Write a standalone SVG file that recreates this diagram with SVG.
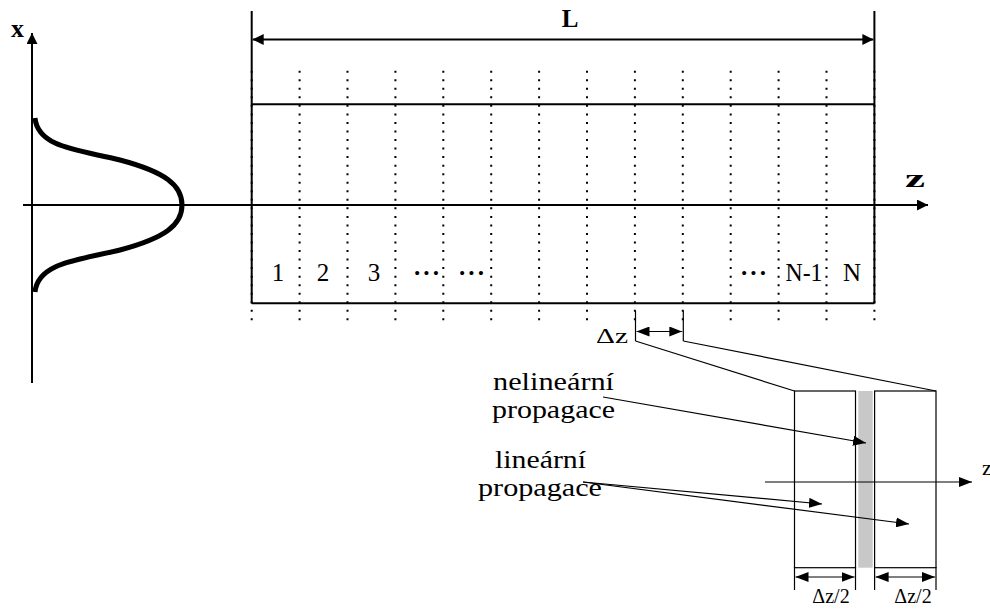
<svg xmlns="http://www.w3.org/2000/svg" width="990" height="610" viewBox="0 0 990 610">
<style>
text{font-family:"Liberation Serif","Times New Roman","DejaVu Serif",serif;fill:#000}
.b{font-weight:bold}
.ln{stroke:#000;stroke-width:2;fill:none}
.th{stroke:#000;stroke-width:1.2;fill:none}
.dot{stroke:#000;stroke-width:2;stroke-dasharray:2 6.54;fill:none}
</style>
<defs>
<marker id="ah" markerUnits="userSpaceOnUse" markerWidth="11" markerHeight="11" refX="11" refY="5.5" orient="auto-start-reverse"><path d="M0,0 L11,5.5 L0,11 z" fill="#000"/></marker>
<marker id="as" markerUnits="userSpaceOnUse" markerWidth="13" markerHeight="10" refX="13" refY="5" orient="auto-start-reverse"><path d="M0,0 L13,5 L0,10 z" fill="#000"/></marker>
</defs>
<rect width="990" height="610" fill="#fff"/>

<g id="axes">
<line class="ln" x1="32" y1="383" x2="32" y2="33" marker-end="url(#ah)"/>
<line class="ln" x1="23" y1="205" x2="928" y2="205" marker-end="url(#ah)"/>
<text class="b" x="17.5" y="37" font-size="26" text-anchor="middle" font-family="Liberation Serif, serif">x</text>
<text class="b" x="905" y="187" font-size="26" textLength="20" lengthAdjust="spacingAndGlyphs" font-family="Liberation Serif, serif">z</text>
</g>

<g id="gauss">
<path d="M35,118 C38,148 80,150 120,160 C165,172 182,185 182,205 C182,225 165,238 120,250 C80,260 38,262 35,292" stroke="#000" stroke-width="5" fill="none"/>
</g>

<g id="fiber">
<line class="dot" x1="251.7" y1="70.7" x2="251.7" y2="323"/>
<line class="dot" x1="299.6" y1="70.7" x2="299.6" y2="323"/>
<line class="dot" x1="347.5" y1="70.7" x2="347.5" y2="323"/>
<line class="dot" x1="395.4" y1="70.7" x2="395.4" y2="323"/>
<line class="dot" x1="443.3" y1="70.7" x2="443.3" y2="323"/>
<line class="dot" x1="491.2" y1="70.7" x2="491.2" y2="323"/>
<line class="dot" x1="539.1" y1="70.7" x2="539.1" y2="323"/>
<line class="dot" x1="587.0" y1="70.7" x2="587.0" y2="323"/>
<line class="dot" x1="634.9" y1="70.7" x2="634.9" y2="323"/>
<line class="dot" x1="682.8" y1="70.7" x2="682.8" y2="323"/>
<line class="dot" x1="730.7" y1="70.7" x2="730.7" y2="323"/>
<line class="dot" x1="778.6" y1="70.7" x2="778.6" y2="323"/>
<line class="dot" x1="826.5" y1="70.7" x2="826.5" y2="323"/>
<line class="dot" x1="874.4" y1="70.7" x2="874.4" y2="323"/>
<line class="ln" x1="251.7" y1="11" x2="251.7" y2="303.5"/>
<line class="ln" x1="874.4" y1="11" x2="874.4" y2="303.5"/>
<line class="ln" x1="251.7" y1="104.3" x2="874.4" y2="104.3"/>
<line class="ln" x1="251.7" y1="303.3" x2="874.4" y2="303.3"/>
<line class="ln" x1="252.7" y1="39.5" x2="873.4" y2="39.5" marker-start="url(#ah)" marker-end="url(#ah)"/>
<text class="b" x="570" y="27" font-size="25" text-anchor="middle" font-family="Liberation Serif, serif">L</text>
<g font-size="25" text-anchor="middle" font-family="Liberation Serif, serif">
<text x="278" y="281">1</text>
<text x="323" y="281">2</text>
<text x="374" y="281">3</text>
<text x="427" y="281" class="b" letter-spacing="1">···</text>
<text x="472" y="281" class="b" letter-spacing="1">···</text>
<text x="754" y="281" class="b" letter-spacing="1">···</text>
<text x="804" y="281" textLength="37" lengthAdjust="spacingAndGlyphs">N-1</text>
<text x="852" y="281">N</text>
</g>
</g>

<g id="dz">
<line class="th" x1="635.5" y1="311" x2="635.5" y2="341"/>
<line class="th" x1="683.3" y1="311" x2="683.3" y2="341"/>
<line class="th" x1="636.5" y1="331.5" x2="682.3" y2="331.5" marker-start="url(#as)" marker-end="url(#as)"/>
<text x="596" y="343" font-size="22" textLength="32" lengthAdjust="spacingAndGlyphs" font-family="Liberation Serif, serif">Δz</text>
</g>

<g id="step">
<rect x="858.3" y="391" width="14.4" height="176.7" fill="#c8c8c8"/>
<rect class="th" x="794.5" y="391" width="61" height="176.7"/>
<rect class="th" x="874.6" y="391" width="61.4" height="176.7"/>
<line class="th" x1="765" y1="482" x2="972" y2="482" marker-end="url(#as)"/>
<text x="982" y="475" font-size="22" font-family="Liberation Serif, serif">z</text>
<line class="th" x1="794.5" y1="567" x2="794.5" y2="590"/>
<line class="th" x1="855.5" y1="567" x2="855.5" y2="590"/>
<line class="th" x1="874.6" y1="567" x2="874.6" y2="590"/>
<line class="th" x1="936" y1="567" x2="936" y2="590"/>
<line class="th" x1="795.5" y1="577" x2="854.5" y2="577" marker-start="url(#as)" marker-end="url(#as)"/>
<line class="th" x1="875.6" y1="577" x2="935" y2="577" marker-start="url(#as)" marker-end="url(#as)"/>
<text x="831" y="603" font-size="20" text-anchor="middle" font-family="Liberation Serif, serif">Δz/2</text>
<text x="913" y="603" font-size="20" text-anchor="middle" font-family="Liberation Serif, serif">Δz/2</text>
</g>

<g id="connectors">
<line class="th" x1="635.5" y1="341" x2="794.5" y2="391"/>
<line class="th" x1="683.3" y1="341" x2="936" y2="391"/>
<line class="th" x1="603" y1="397" x2="866" y2="443" marker-end="url(#as)"/>
<line class="th" x1="583" y1="482" x2="822" y2="504" marker-end="url(#as)"/>
<line class="th" x1="583" y1="482" x2="909" y2="524" marker-end="url(#as)"/>
</g>

<g id="labels" font-size="25" font-family="Liberation Serif, serif">
<text x="493" y="390" textLength="121" lengthAdjust="spacingAndGlyphs">nelineární</text>
<text x="492" y="418" textLength="123" lengthAdjust="spacingAndGlyphs">propagace</text>
<text x="495" y="468" textLength="91" lengthAdjust="spacingAndGlyphs">lineární</text>
<text x="478" y="496" textLength="124" lengthAdjust="spacingAndGlyphs">propagace</text>
</g>
</svg>
